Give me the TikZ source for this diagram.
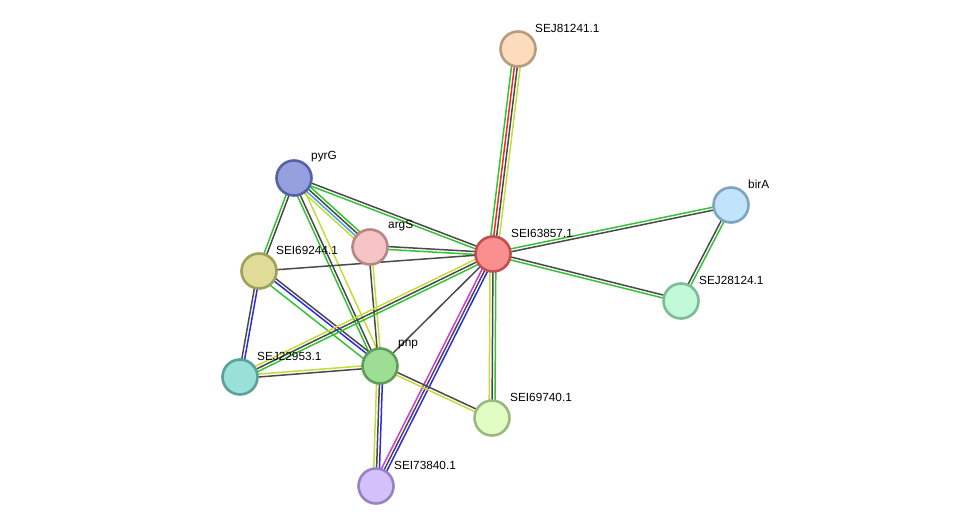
\documentclass[tikz,border=0pt]{standalone}
\usepackage{fontspec}
\setmainfont{Liberation Sans}
\usetikzlibrary{calc,backgrounds}
\definecolor{eg}{HTML}{33C333}
\definecolor{ek}{HTML}{4A4A4A}
\definecolor{ey}{HTML}{C4DC3A}
\definecolor{eb}{HTML}{2B2BF0}
\definecolor{ec}{HTML}{3FA9E0}
\definecolor{em}{HTML}{D23AD2}
\definecolor{er}{HTML}{F02828}
\definecolor{f1}{HTML}{FDDCBE}\definecolor{d1}{HTML}{B89B7C}
\definecolor{f2}{HTML}{95A0DE}\definecolor{d2}{HTML}{5562A3}
\definecolor{f3}{HTML}{F6C4C4}\definecolor{d3}{HTML}{B98585}
\definecolor{f4}{HTML}{FB8E8E}\definecolor{d4}{HTML}{C0504F}
\definecolor{f5}{HTML}{C0E4FC}\definecolor{d5}{HTML}{7FA4BD}
\definecolor{f6}{HTML}{DEDC97}\definecolor{d6}{HTML}{A1A05A}
\definecolor{f7}{HTML}{C1F9D9}\definecolor{d7}{HTML}{7DBB99}
\definecolor{f8}{HTML}{98E0D8}\definecolor{d8}{HTML}{58A29A}
\definecolor{f9}{HTML}{9EDE94}\definecolor{d9}{HTML}{5F9E57}
\definecolor{f10}{HTML}{E2FDC3}\definecolor{d10}{HTML}{9CB77F}
\definecolor{f11}{HTML}{D4C1FB}\definecolor{d11}{HTML}{9682C5}
\tikzset{
  prot/.style 2 args={circle, minimum size=35pt, inner sep=0pt, fill=#1, draw=#2, line width=2.6pt},
  plabel/.style={anchor=west, inner sep=0pt, font=\fontsize{11.8}{13}\selectfont},
  edgeline/.style={line width=1.5pt}
}
\newcommand\medge[3]{%
  \foreach \c [count=\i] in {#3} {\xdef\nn{\i}}%
  \foreach \c [count=\i] in {#3} {%
    \pgfmathsetmacro\off{(\i-(\nn+1)/2)*2.9}%
    \draw[edgeline,\c] ($(#1)!\off pt!90:(#2)$) -- ($(#2)!\off pt!-90:(#1)$);
  }%
}
\begin{document}
\begin{tikzpicture}[x=1pt,y=-1pt]
\useasboundingbox (0,0) rectangle (976,532);
\node[prot={f1}{d1}] (n81241) at (518,49) {};
\node[prot={f2}{d2}] (pyrG) at (294,178) {};
\node[prot={f3}{d3}] (argS) at (370,247) {};
\node[prot={f4}{d4}] (n63857) at (493,254) {};
\node[prot={f5}{d5}] (birA) at (731,205) {};
\node[prot={f6}{d6}] (n69244) at (259,271) {};
\node[prot={f7}{d7}] (n28124) at (681,301) {};
\node[prot={f8}{d8}] (n22953) at (240,377) {};
\node[prot={f9}{d9}] (pnp) at (380,366) {};
\node[prot={f10}{d10}] (n69740) at (492,418) {};
\node[prot={f11}{d11}] (n73840) at (376,486) {};
\node[plabel] (l81241) at (535,28) {SEJ81241.1};
\node[plabel] (lpyrG) at (311,157) {pyrG};
\node[plabel] (largS) at (388,226) {argS};
\node[plabel] (l63857) at (511,233) {SEI63857.1};
\node[plabel] (lbirA) at (748,184) {birA};
\node[plabel] (l69244) at (276,250) {SEI69244.1};
\node[plabel] (l28124) at (699,280) {SEJ28124.1};
\node[plabel] (l22953) at (257,356) {SEJ22953.1};
\node[plabel] (lpnp) at (398,345) {pnp};
\node[plabel] (l69740) at (510,397) {SEI69740.1};
\node[plabel] (l73840) at (394,465) {SEI73840.1};
\begin{pgfonlayer}{background}
\medge{n81241}{n63857}{eg,er,ek,ey}
\medge{pyrG}{argS}{ey,ec,ek,eg}
\medge{pyrG}{n63857}{eg,ek}
\medge{pyrG}{n69244}{eg,ek}
\medge{pyrG}{pnp}{eg,ek,white,ey}
\medge{argS}{n63857}{eg,ek}
\medge{argS}{pnp}{ek,ey}
\medge{n69244}{n63857}{ek}
\medge{n69244}{n22953}{ek,eb}
\medge{n69244}{pnp}{eg,white,eb,ek}
\medge{n63857}{n22953}{ey,ek,eg}
\medge{n63857}{pnp}{ek}
\medge{n63857}{n73840}{em,ek,eb}
\medge{n63857}{n69740}{ey,ek,eg}
\medge{n63857}{birA}{ek,eg}
\medge{n63857}{n28124}{eg,ek}
\medge{birA}{n28124}{ek,eg}
\medge{n22953}{pnp}{ek,ey}
\medge{pnp}{n69740}{ey,ek}
\medge{pnp}{n73840}{ey,ek,eb}
\end{pgfonlayer}
\end{tikzpicture}
\end{document}
